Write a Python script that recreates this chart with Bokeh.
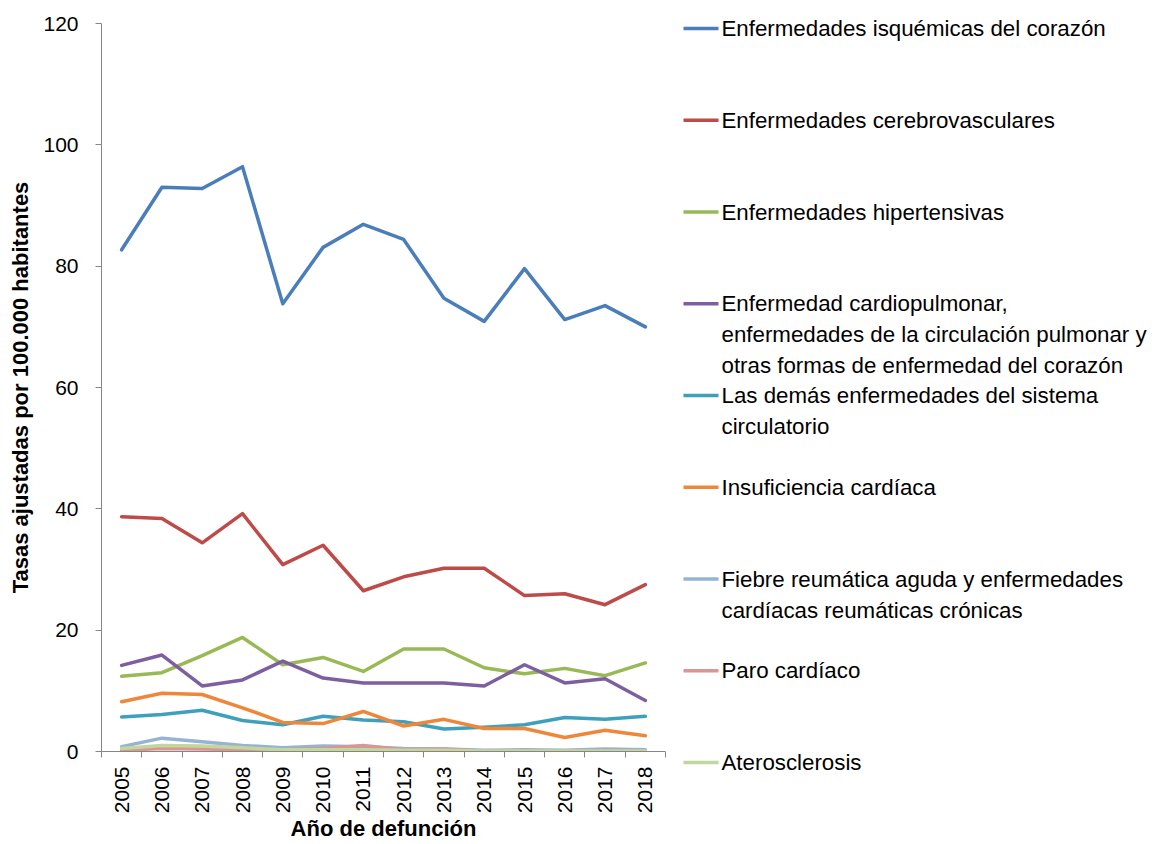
import numpy as np
from bokeh.plotting import figure
from bokeh.models import Range1d, FixedTicker
from bokeh.layouts import row
from bokeh.embed import file_html
from bokeh.resources import INLINE
from bokeh.core.properties import value

# ---------------- data ----------------
years = [2005, 2006, 2007, 2008, 2009, 2010, 2011, 2012, 2013, 2014, 2015, 2016, 2017, 2018]

isquemicas = [82.7, 93.0, 92.8, 96.4, 73.8, 83.1, 86.9, 84.4, 74.7, 70.9, 79.6, 71.2, 73.5, 70.0]
cerebrovasculares = [38.7, 38.4, 34.4, 39.2, 30.8, 34.0, 26.5, 28.8, 30.2, 30.2, 25.7, 26.0, 24.2, 27.5]
hipertensivas = [12.4, 13.0, 15.8, 18.8, 14.3, 15.5, 13.2, 16.9, 16.9, 13.8, 12.8, 13.7, 12.5, 14.6]
cardiopulmonar = [14.2, 15.9, 10.8, 11.8, 14.9, 12.1, 11.3, 11.3, 11.3, 10.8, 14.3, 11.3, 12.0, 8.4]
demas = [5.7, 6.1, 6.8, 5.1, 4.4, 5.8, 5.2, 4.9, 3.7, 4.0, 4.4, 5.6, 5.3, 5.8]
insuficiencia = [8.2, 9.6, 9.4, 7.2, 4.8, 4.6, 6.6, 4.2, 5.3, 3.8, 3.8, 2.3, 3.5, 2.6]
fiebre = [0.8, 2.2, 1.6, 1.0, 0.6, 0.9, 0.8, 0.5, 0.4, 0.2, 0.3, 0.2, 0.4, 0.3]
paro = [0.2, 0.5, 0.4, 0.3, 0.3, 0.5, 1.0, 0.3, 0.4, 0.1, 0.1, 0.1, 0.1, 0.1]
aterosclerosis = [0.5, 1.0, 0.9, 0.6, 0.3, 0.3, 0.3, 0.2, 0.2, 0.1, 0.1, 0.1, 0.1, 0.1]

labels = [
    "Enfermedades isquémicas del corazón",
    "Enfermedades cerebrovasculares",
    "Enfermedades hipertensivas",
    "Enfermedad cardiopulmonar,\nenfermedades de la circulación pulmonar y\notras formas de enfermedad del corazón",
    "Las demás enfermedades del sistema\ncirculatorio",
    "Insuficiencia cardíaca",
    "Fiebre reumática aguda y enfermedades\ncardíacas reumáticas crónicas",
    "Paro cardíaco",
    "Aterosclerosis",
]
series = [isquemicas, cerebrovasculares, hipertensivas, cardiopulmonar, demas,
          insuficiencia, fiebre, paro, aterosclerosis]
colors = ["#4A7EBB", "#BE4B48", "#98B954", "#7D5FA0", "#3FA0BC",
          "#EE873A", "#95B3D7", "#D99694", "#C3D69B"]

y_ticks = [0, 20, 40, 60, 80, 100, 120]

FONT = "Liberation Sans"
AXIS_COLOR = "#868686"
LW = 3.5

# ---------------- main plot ----------------
p = figure(width=668, height=844, output_backend="svg", toolbar_location=None,
           x_range=Range1d(years[0] - 0.5, years[-1] + 0.5), y_range=Range1d(0, 120),
           min_border_left=101, min_border_right=3, min_border_top=23, min_border_bottom=93)
p.frame_align = False
p.outline_line_color = None
p.xgrid.visible = False
p.ygrid.visible = False
p.background_fill_color = "white"
p.border_fill_color = "white"

for vals, col in zip(series, colors):
    p.line(years, vals, line_color=col, line_width=LW, line_join="round", line_cap="round")

boundaries = [y - 0.5 for y in years] + [years[-1] + 0.5]
p.xaxis.ticker = FixedTicker(ticks=years, minor_ticks=boundaries)
p.xaxis.major_tick_out = 0
p.xaxis.major_tick_in = 0
p.xaxis.minor_tick_out = 6
p.xaxis.minor_tick_in = 0
p.xaxis.minor_tick_line_color = AXIS_COLOR
p.xaxis.major_label_orientation = np.pi / 2
p.xaxis.major_label_standoff = 9
p.xaxis.axis_label = "Año de defunción"
p.xaxis.axis_label_standoff = 0

p.yaxis.ticker = FixedTicker(ticks=y_ticks)
p.yaxis.major_tick_out = 6
p.yaxis.major_tick_in = 0
p.yaxis.minor_tick_line_color = None
p.yaxis.major_label_standoff = 17
p.yaxis.axis_label = "Tasas ajustadas por 100.000 habitantes"
p.yaxis.axis_label_standoff = 7

for ax in (p.xaxis[0], p.yaxis[0]):
    ax.axis_line_color = AXIS_COLOR
    ax.major_tick_line_color = AXIS_COLOR
    ax.major_label_text_font = FONT
    ax.major_label_text_font_size = "21px"
    ax.major_label_text_color = "black"
    ax.axis_label_text_font = FONT
    ax.axis_label_text_font_size = "22px"
    ax.axis_label_text_font_style = "bold"
    ax.axis_label_text_color = "black"

# ---------------- legend panel ----------------
W2 = 491
H2 = 844
p2 = figure(width=W2, height=H2, output_backend="svg", toolbar_location=None,
            x_range=Range1d(0, W2), y_range=Range1d(H2, 0),
            min_border=0, x_axis_location=None, y_axis_location=None)
p2.frame_align = False
p2.outline_line_color = None
p2.grid.visible = False

first_y = 28
step = 91.75
line_gap = 31
entry_y = [first_y + step * i for i in range(len(labels))]

p2.segment(x0=[15] * len(labels), y0=entry_y, x1=[50] * len(labels), y1=entry_y,
           line_color=colors, line_width=LW)

tx, ty, tt = [], [], []
for yy, lab in zip(entry_y, labels):
    for k, part in enumerate(lab.split("\n")):
        tx.append(53)
        ty.append(yy + line_gap * k)
        tt.append(part)
p2.text(x=tx, y=ty, text=tt, text_font=value(FONT), text_font_size="22.3px",
        text_baseline="middle", text_align="left", text_color="black")

layout = row(p, p2)
open("out.html", "w").write(file_html(layout, INLINE))
